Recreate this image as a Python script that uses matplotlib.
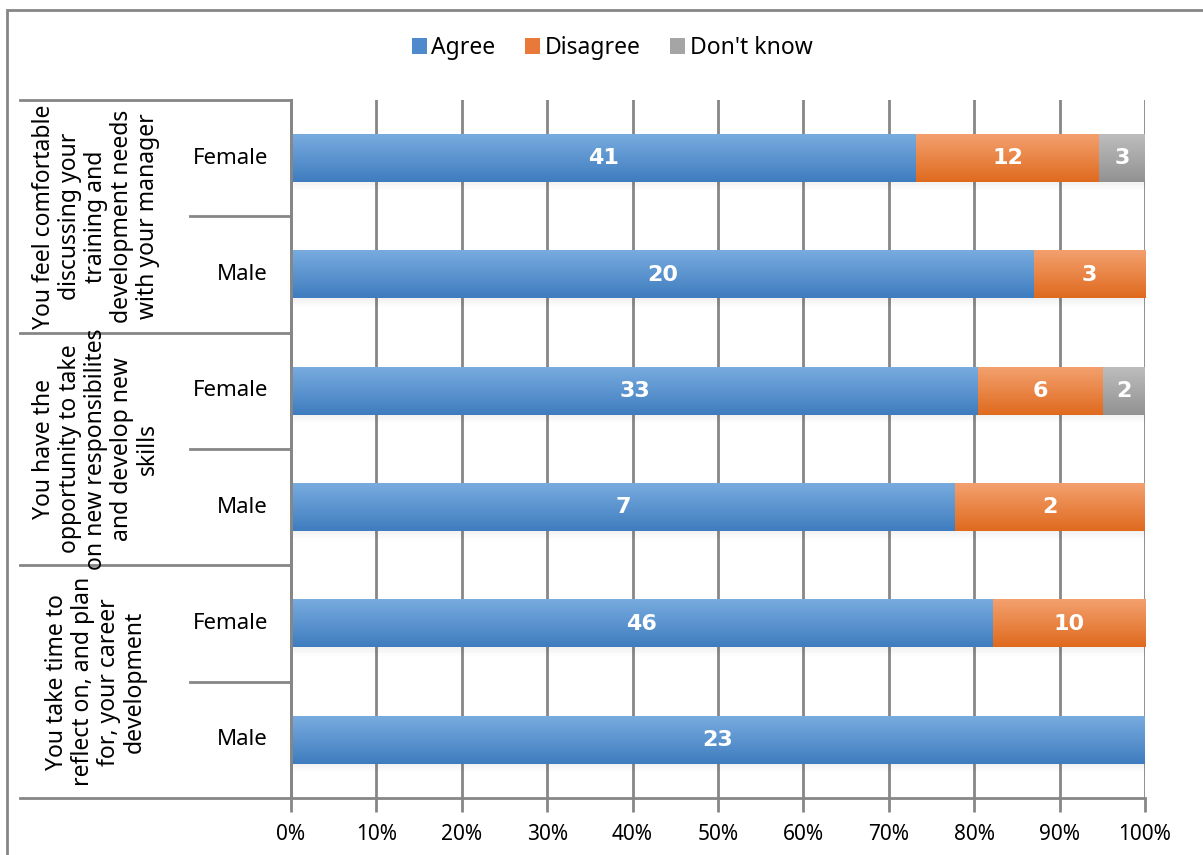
import numpy as np
import matplotlib
matplotlib.use("Agg")
import matplotlib.pyplot as plt
from matplotlib.colors import LinearSegmentedColormap
from matplotlib.patches import Rectangle
from matplotlib.lines import Line2D

plt.rcParams['font.family'] = ['Noto Sans', 'DejaVu Sans']

# survey counts per question / gender
questions = [
    "You feel comfortable\ndiscussing your\ntraining and\ndevelopment needs\nwith your manager",
    "You have the\nopportunity to take\non new responsibilites\nand develop new\nskills",
    "You take time to\nreflect on, and plan\nfor, your career\ndevelopment",
]
genders = ["Female", "Male"]
series = ["Agree", "Disagree", "Don't know"]
agree = [41, 20, 33, 7, 46, 23]
disagree = [12, 3, 6, 2, 10, 0]
dont_know = [3, 0, 2, 0, 0, 0]

# top / bottom colours of each series' gradient
grad = {
    "Agree": ("#78acdf", "#3f7cbf"),
    "Disagree": ("#f3a06e", "#df6a1e"),
    "Don't know": ("#bdbdbd", "#929292"),
}
legend_col = {"Agree": "#4f8bcc", "Disagree": "#e8793a", "Don't know": "#a5a5a5"}

W, H = 1203, 855
fig = plt.figure(figsize=(W / 100, H / 100), dpi=100)
ax = fig.add_axes([291 / W, 1 - 798 / H, (1145 - 291) / W, (798 - 100) / H])

counts = np.array([agree, disagree, dont_know], dtype=float)
totals = counts.sum(axis=0)
shares = counts / totals

n = len(agree)
ypos = np.arange(n)[::-1] + 0.5  # first row at top
bar_h = 0.41

for i in range(n):
    left = 0.0
    for k, name in enumerate(series):
        w = shares[k, i]
        if w <= 0:
            continue
        top_c, bot_c = grad[name]
        cmap = LinearSegmentedColormap.from_list(name, [bot_c, top_c])
        g = np.linspace(0, 1, 64).reshape(-1, 1)
        y0, y1 = ypos[i] - bar_h / 2, ypos[i] + bar_h / 2
        # soft shadow under the bar
        for s in range(6):
            ax.add_patch(Rectangle((left, y0 - 0.012 * (s + 1)), w, 0.012,
                                   facecolor="black", alpha=0.05 * (1 - s / 6),
                                   lw=0, zorder=2))
        ax.imshow(g, cmap=cmap, extent=(left, left + w, y0, y1), origin="lower",
                  aspect="auto", zorder=3, interpolation="bilinear")
        ax.text(left + w / 2, ypos[i], f"{int(counts[k, i])}", ha="center",
                va="center", color="white", fontsize=16, fontweight="bold",
                family="DejaVu Sans", zorder=4)
        left += w

ax.set_xlim(0, 1)
ax.set_ylim(0, n)
ax.set_xticks(np.arange(0, 1.01, 0.1))
ax.set_xticklabels([f"{int(round(t * 100))}%" for t in np.arange(0, 1.01, 0.1)], fontsize=15)
ax.set_yticks([])
ax.tick_params(axis="x", length=10, width=2, color="#868686", pad=9)
ax.grid(axis="x", color="#868686", lw=2)
ax.set_axisbelow(True)
for sp in ["top", "right"]:
    ax.spines[sp].set_visible(False)
for sp in ["left", "bottom"]:
    ax.spines[sp].set_color("#868686")
    ax.spines[sp].set_linewidth(2)

# category axis: group separators, gender labels and question labels
def fx(px):
    return px / W

def fy(py):
    return 1 - py / H

line_kw = dict(color="#868686", lw=2, transform=fig.transFigure)
for gy in [100, 333, 565, 798]:
    fig.add_artist(Line2D([fx(20), fx(291)], [fy(gy), fy(gy)], **line_kw))
for gy in [216, 449, 682]:
    fig.add_artist(Line2D([fx(190), fx(291)], [fy(gy), fy(gy)], **line_kw))
fig.add_artist(Line2D([fx(291), fx(291)], [fy(100), fy(798)], **line_kw))

for i in range(n):
    yc = 100 + (798 - 100) * (i + 0.5) / n
    fig.text(fx(268), fy(yc), genders[i % 2], ha="right", va="center", fontsize=16)

for q, text in enumerate(questions):
    yc = 100 + (798 - 100) * (q + 0.5) / len(questions)
    fig.text(fx(96), fy(yc), text, rotation=90, ha="center", va="center",
             fontsize=16.5, linespacing=1.1, multialignment="center")

# outer frame
fig.add_artist(Rectangle((fx(7), -0.1), 1.2, fy(10) + 0.1, fill=False,
                         edgecolor="#868686", lw=2, transform=fig.transFigure))

handles = [Rectangle((0, 0), 1, 1, facecolor=legend_col[s], edgecolor="none") for s in series]
fig.legend(handles, series, loc="center", bbox_to_anchor=(fx(612), fy(48)), ncol=3,
           frameon=False, fontsize=16.5, handlelength=0.65, handleheight=0.65,
           handletextpad=0.2, columnspacing=1.3)

fig.savefig("out.png", dpi=100)
